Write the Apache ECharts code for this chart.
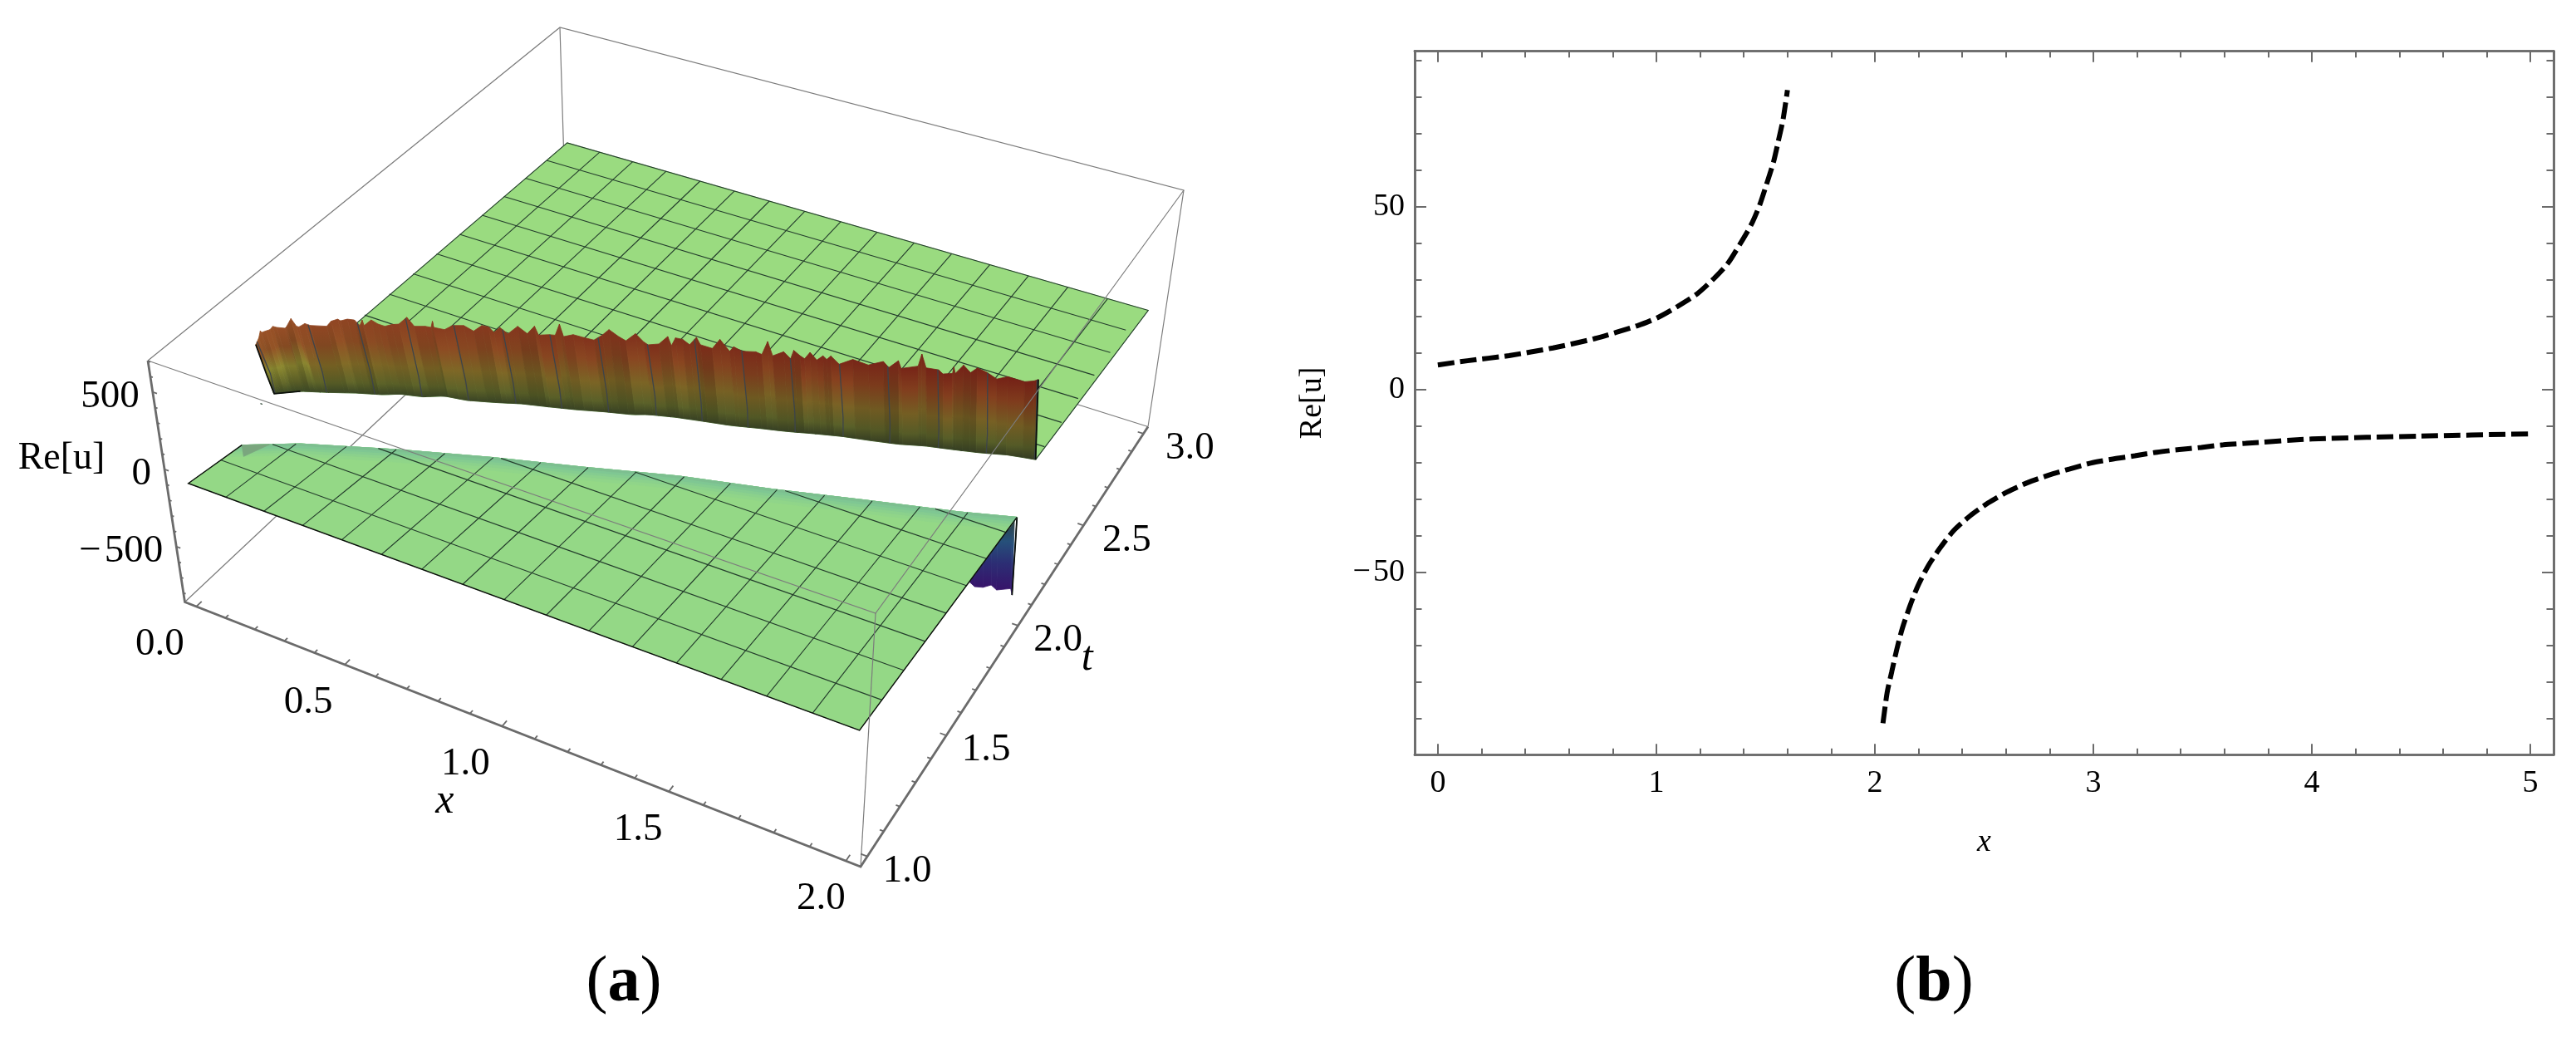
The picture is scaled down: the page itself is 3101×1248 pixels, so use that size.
<!DOCTYPE html>
<html>
<head>
<meta charset="utf-8">
<title>Re[u]</title>
<style>html,body{margin:0;background:#fff}#main{width:3101px;height:1248px}</style>
<script src="https://cdn.jsdelivr.net/npm/echarts@6/dist/echarts.min.js"></script>
</head>
<body>
<div id="main"></div>
<script>
// panel (b): the two branches of Re[u]
const leftX = [0, 0.136, 0.326, 0.527, 0.718, 0.915, 1.01, 1.099, 1.187, 1.264, 1.327, 1.384, 1.435, 1.473, 1.504, 1.536, 1.558, 1.58, 1.6];
const leftU = [6.75, 7.9, 9.3, 11.4, 13.95, 17.5, 19.8, 22.8, 26.2, 30.4, 34.5, 39.9, 45.2, 50.5, 56.1, 62.2, 67.9, 73.9, 81.9];
const rightX = [2.037, 2.056, 2.077, 2.1, 2.125, 2.159, 2.195, 2.242, 2.296, 2.36, 2.436, 2.518, 2.605, 2.696, 2.795, 2.892, 2.987, 3.089, 3.19, 3.292, 3.393, 3.494, 3.595, 3.697, 4, 4.5, 5];
const rightU = [-91.2, -82.9, -77.2, -71.1, -65.4, -59.4, -53.9, -48.4, -43.5, -38.6, -34.5, -31, -28, -25.5, -23.4, -21.7, -20.1, -19, -18.1, -17.1, -16.4, -15.8, -15.1, -14.7, -13.5, -12.7, -12.1];
const plotXMajor = [0, 1, 2, 3, 4, 5];
const plotXMinor = [0.2, 0.4, 0.6, 0.8, 1.2, 1.4, 1.6, 1.8, 2.2, 2.4, 2.6, 2.8, 3.2, 3.4, 3.6, 3.8, 4.2, 4.4, 4.6, 4.8];
const plotYMajor = [-50, 0, 50];
const plotYMinor = [-90, -80, -70, -60, -40, -30, -20, -10, 10, 20, 30, 40, 60, 70, 80, 90];

const meshX = [0, 0.125, 0.25, 0.375, 0.5, 0.625, 0.75, 0.875, 1, 1.125, 1.25, 1.375, 1.5, 1.625, 1.75, 1.875, 2];
const meshT = [1, 1.125, 1.25, 1.375, 1.5, 1.625, 1.75, 1.875, 2, 2.125, 2.25, 2.375, 2.5, 2.625, 2.75, 2.875, 3];
const crestX = [0.025, 0.163, 0.418, 0.662, 0.902, 1.151, 1.399, 1.639, 1.878, 2.022];
const crestT = [1.207, 1.289, 1.398, 1.492, 1.575, 1.667, 1.739, 1.818, 1.894, 1.948];
const wallBottomX = [-0.027, 0.031, 0.104, 0.174, 0.248, 0.287, 0.35, 0.403, 0.469, 0.543, 0.615, 0.692, 0.767, 0.84, 0.915, 0.952, 1.026, 1.103, 1.18, 1.253, 1.327, 1.399, 1.472, 1.546, 1.62, 1.69, 1.763, 1.835, 1.905, 1.978];
const wallBottomT = [1.431, 1.476, 1.509, 1.544, 1.575, 1.6, 1.619, 1.652, 1.665, 1.694, 1.726, 1.751, 1.777, 1.806, 1.832, 1.853, 1.879, 1.9, 1.92, 1.946, 1.97, 1.998, 2.024, 2.044, 2.066, 2.095, 2.117, 2.14, 2.168, 2.185];
const wallTopX = [-0.029, -0.02, -0.015, -0.012, -0.003, 0.006, 0.013, 0.021, 0.04, 0.044, 0.058, 0.07, 0.076, 0.092, 0.105, 0.146, 0.158, 0.175, 0.182, 0.2, 0.218, 0.231, 0.238, 0.242, 0.26, 0.275, 0.291, 0.31, 0.33, 0.353, 0.369, 0.394, 0.409, 0.414, 0.416, 0.448, 0.472, 0.501, 0.526, 0.548, 0.565, 0.578, 0.593, 0.613, 0.64, 0.665, 0.685, 0.695, 0.724, 0.739, 0.751, 0.761, 0.786, 0.811, 0.839, 0.861, 0.879, 0.904, 0.922, 0.945, 0.966, 0.977, 1.005, 1.028, 1.038, 1.049, 1.068, 1.087, 1.105, 1.116, 1.148, 1.168, 1.194, 1.204, 1.226, 1.261, 1.277, 1.291, 1.305, 1.333, 1.351, 1.358, 1.375, 1.386, 1.399, 1.417, 1.432, 1.442, 1.452, 1.474, 1.509, 1.55, 1.588, 1.603, 1.626, 1.634, 1.675, 1.682, 1.695, 1.727, 1.739, 1.763, 1.765, 1.77, 1.789, 1.808, 1.824, 1.849, 1.874, 1.9, 1.944, 1.968, 1.978];
const wallTopU = [297, 340, 385, 375, 382, 388, 408, 399, 392, 401, 458, 408, 405, 429, 418, 415, 449, 464, 454, 468, 465, 430, 468, 432, 469, 440, 425, 442, 451, 502, 441, 439, 433, 476, 436, 435, 472, 477, 445, 486, 479, 444, 479, 439, 496, 454, 509, 453, 463, 463, 539, 459, 477, 464, 451, 489, 530, 490, 465, 511, 459, 444, 456, 511, 454, 509, 506, 477, 532, 487, 474, 541, 470, 502, 478, 483, 470, 559, 469, 503, 461, 517, 484, 468, 512, 466, 497, 476, 501, 453, 496, 474, 509, 474, 525, 476, 498, 578, 491, 488, 465, 476, 518, 478, 537, 494, 529, 505, 468, 488, 472, 487, 500];
const dropX = [1.888, 1.892, 1.91, 1.925, 1.946, 1.966, 1.981, 2.016, 2.021];
const dropU = [-668, -596, -591, -619, -618, -598, -626, -608, -648];
const dropEdgeU = [-279, -455];
const frontSheetU = [-115, -110];
const backSheetU = [-90, -70];
const wallBendU = 60;
const box3dXMajor = [0, 0.5, 1, 1.5, 2];
const box3dXMinor = [0.1, 0.2, 0.3, 0.4, 0.6, 0.7, 0.8, 0.9, 1.1, 1.2, 1.3, 1.4, 1.6, 1.7, 1.8, 1.9];
const box3dTMajor = [1, 1.5, 2, 2.5, 3];
const box3dTMinor = [1.1, 1.2, 1.3, 1.4, 1.6, 1.7, 1.8, 1.9, 2.1, 2.2, 2.3, 2.4, 2.6, 2.7, 2.8, 2.9];
const box3dUMajor = [-500, 0, 500];
const box3dUMinor = [-800, -700, -600, -400, -300, -200, -100, 100, 200, 300, 400, 600, 700];

const SERIF = "'Liberation Serif'";

// camera: corners of the 3d box on the page, plus perspective along x and t
const range3d = {xMin: -0.04, xMax: 2.04, tMin: 0.96, tMax: 3.04, uMin: -859, uMax: 703, kX: 1.13, kT: 0.825};
const corner = {
	A: [222.5, 724.5], B: [1036, 1043], C: [1382, 513.5], D: [682, 293],
	A2: [178, 434], B2: [1054, 738], C2: [1425, 229], D2: [674, 33]
};

const mix2 = function (p, q, s) {
	return [p[0] + (q[0] - p[0]) * s, p[1] + (q[1] - p[1]) * s];
};

const project = function (x, t, u) {
	const r = range3d;
	const a = (x - r.xMin) / (r.xMax - r.xMin);
	const b = (t - r.tMin) / (r.tMax - r.tMin);
	const w = (u - r.uMin) / (r.uMax - r.uMin);
	const ax = a / (a + r.kX * (1 - a));
	const bt = b / (b + r.kT * (1 - b));
	const low = mix2(mix2(corner.A, corner.B, ax), mix2(corner.D, corner.C, ax), bt);
	const high = mix2(mix2(corner.A2, corner.B2, ax), mix2(corner.D2, corner.C2, ax), bt);
	return mix2(low, high, w);
};

const lookup = function (xs, ys, x) {
	if (x <= xs[0]) return ys[0];
	for (let i = 1; i < xs.length; i++) {
		if (x <= xs[i]) return ys[i - 1] + (ys[i] - ys[i - 1]) * (x - xs[i - 1]) / (xs[i] - xs[i - 1]);
	}
	return ys[ys.length - 1];
};

const crestAt = x => lookup(crestX, crestT, x);
const wallAt = x => lookup(wallBottomX, wallBottomT, x);
const wallTopAt = x => lookup(wallTopX, wallTopU, x);

// the sheets lean a little against the box, as they do in the picture
const frontX = (x, t) => x + 0.11 * (t - 1) * (1 - x / 2) + 0.023 * (t - 1) * x / 2;
const backX = (x, t) => x - 0.025 * (3 - t) / 1.2;
const frontU = t => frontSheetU[0] + (frontSheetU[1] - frontSheetU[0]) * (t - 1);
const backU = t => backSheetU[0] + (backSheetU[1] - backSheetU[0]) * (t - 1.4) / 1.6;

const MESH = {color: '#243d2c', width: 1.15};
const WALL_MESH = {color: '#3d444a', width: 1.3};
const THIN = {color: '#7c7c7c', width: 1.2};
const THICK = {color: '#6b6b6b', width: 2.8};
const EDGE = {color: '#0b0f0b', width: 1.4};
const WALL_EDGE = {color: '#0b0f0b', width: 1.8};

const polygon = (list, pts, fill, stroke) => list.push({kind: 'polygon', pts: pts, fill: fill, stroke: stroke});
const polyline = (list, pts, line) => list.push({kind: 'polyline', pts: pts, line: line});

const hexMix = function (p, q, s, shade) {
	const out = [0, 1, 2].map(function (i) {
		const a = parseInt(p.substr(1 + i * 2, 2), 16);
		const b = parseInt(q.substr(1 + i * 2, 2), 16);
		return Math.max(0, Math.min(255, Math.round((a + (b - a) * s) * shade)));
	});
	return 'rgb(' + out.join(',') + ')';
};

const wallGradient = function (x, shade) {
	const s = Math.max(0, Math.min(1, Math.pow((x + 0.03) / 2, 0.45)));
	const left = Math.max(0, 1 - (x + 0.03) / 0.12);
	return new echarts.graphic.LinearGradient(0, 0, 0, 1, [
		{offset: 0, color: hexMix('#a05a2a', '#741f16', s, 1)},
		{offset: 0.3, color: hexMix('#8f5426', '#7c3a1c', s, shade)},
		{offset: 0.6, color: hexMix(left > 0 ? '#8a8a30' : '#7f6a26', '#705a22', s, shade)},
		{offset: 0.85, color: hexMix('#5f6428', '#525826', s, shade)},
		{offset: 1, color: hexMix('#3c4a26', '#343c22', s, 1)}
	]);
};

const wallStreaks = [1, 0.96, 1.05, 0.95, 0.9, 1.06, 1.02, 0.94, 1.07, 0.98, 0.89, 1.03];

// back of the box, under everything
const boxBack = [];
polyline(boxBack, [[range3d.xMin, range3d.tMin, range3d.uMin], [range3d.xMin, range3d.tMax, range3d.uMin], [range3d.xMax, range3d.tMax, range3d.uMin]], THIN);
polyline(boxBack, [[range3d.xMin, range3d.tMax, range3d.uMin], [range3d.xMin, range3d.tMax, range3d.uMax]], THIN);
polyline(boxBack, [[range3d.xMin, range3d.tMin, range3d.uMax], [range3d.xMin, range3d.tMax, range3d.uMax], [range3d.xMax, range3d.tMax, range3d.uMax], [range3d.xMax, range3d.tMax, range3d.uMin]], THIN);

// back sheet
const backLayer = [];
const wallEdge = wallBottomX.map((x, i) => [x, wallBottomT[i], backU(wallBottomT[i])]);
polygon(backLayer, [[0, 3, backU(3)], [2, 3, backU(3)]].concat(wallEdge.slice().reverse()), '#9adb80');
meshX.slice(1, -1).forEach(function (x) {
	const xw = backX(x, 2);
	polyline(backLayer, [[x, 3, backU(3)], [xw, wallAt(xw), backU(wallAt(xw))]], MESH);
});
meshT.slice(3, -1).forEach(function (t) {
	const right = Math.min(backX(2, t), lookup(wallBottomT, wallBottomX, t));
	polyline(backLayer, [[backX(0, t), t, backU(t)], [right, t, backU(t)]], MESH);
});
polyline(backLayer, [[wallBottomX[0], wallBottomT[0], backU(wallBottomT[0])], [0, 3, backU(3)], [2, 3, backU(3)], wallEdge[wallEdge.length - 1]], MESH);

// the wall that climbs out of the back sheet
const wallLayer = [];
wallTopX.slice(1).forEach(function (x, i) {
	const x0 = wallTopX[i];
	const pts = [
		[x0, wallAt(x0) - 0.05, wallTopU[i]],
		[x, wallAt(x) - 0.05, wallTopU[i + 1]],
		[x, wallAt(x), backU(wallAt(x))],
		[x0, wallAt(x0), backU(wallAt(x0))]
	];
	const fill = wallGradient(x, wallStreaks[Math.floor(i / 2) % wallStreaks.length]);
	polygon(wallLayer, pts, fill, fill);
});
meshX.forEach(function (m) {
	const x = m - 0.025;
	polyline(wallLayer, [[x, wallAt(x) - 0.05, wallTopAt(x)], [x + 0.002, wallAt(x) - 0.012, wallBendU], [x, wallAt(x), backU(wallAt(x))]], WALL_MESH);
});
polyline(wallLayer, [
	[wallTopX[0], wallAt(wallTopX[0]) - 0.05, wallTopU[0]],
	[wallBottomX[0] - 0.002, wallBottomT[0] - 0.02, wallBendU],
	[wallBottomX[0], wallBottomT[0], backU(wallBottomT[0])],
	[wallBottomX[1], wallBottomT[1], backU(wallBottomT[1])]
], WALL_EDGE);
const lastTop = wallTopX.length - 1;
polyline(wallLayer, [[wallTopX[lastTop], wallAt(wallTopX[lastTop]) - 0.05, wallTopU[lastTop]], wallEdge[wallEdge.length - 1]], WALL_EDGE);

// the part of the front sheet that falls away past the crest
const dropLayer = [];
const dropFill = new echarts.graphic.LinearGradient(0, 0, 0, 1, [
	{offset: 0, color: '#2d4040'},
	{offset: 0.32, color: '#26507a'},
	{offset: 0.62, color: '#2c2e74'},
	{offset: 1, color: '#37136a'}
]);
dropX.slice(1).forEach(function (x, i) {
	const x0 = dropX[i];
	polygon(dropLayer, [
		[x0, crestAt(x0) - 0.015, frontSheetU[1]],
		[x, crestAt(x) - 0.015, frontSheetU[1]],
		[x, crestAt(x) + 0.03, dropU[i + 1]],
		[x0, crestAt(x0) + 0.03, dropU[i]]
	], dropFill, dropFill);
});
const dropEnd = dropX.length - 1;
const dropOutline = [
	[crestX[crestX.length - 1], crestT[crestT.length - 1], frontSheetU[1]],
	[dropX[dropEnd], crestAt(dropX[dropEnd]) + 0.012, dropEdgeU[0]],
	[dropX[dropEnd], crestAt(dropX[dropEnd]) + 0.02, dropEdgeU[1]],
	[dropX[dropEnd], crestAt(dropX[dropEnd]) + 0.03, dropU[dropEnd]]
];
polygon(dropLayer, dropOutline, '#2a3f5c', '#2a3f5c');
polyline(dropLayer, dropOutline, {color: '#0b0f0b', width: 1.8});

// front sheet, its crest shading and mesh
const frontLayer = [];
const crestEdge = crestX.map((x, i) => [x, crestT[i], frontU(crestT[i])]);
polygon(frontLayer, [[0, 1, frontU(1)], [2, 1, frontU(1)]].concat(crestEdge.slice().reverse()), '#94d886');
const crestBands = [[0.06, '#90d589'], [0.045, '#8bd18c'], [0.032, '#85cc90'], [0.02, '#7fc793'], [0.009, '#7dbf90']];
crestBands.forEach(function (band) {
	const inner = crestX.map((x, i) => [x, crestT[i] - band[0], frontU(crestT[i])]);
	polygon(frontLayer, inner.concat(crestEdge.slice().reverse()), band[1]);
});
polygon(frontLayer, [crestEdge[0], [0.09, crestAt(0.09), frontU(1.2)], [0.06, crestAt(0.06) - 0.06, frontU(1.2)]], '#7aa67e');
meshX.slice(1, -1).forEach(function (x) {
	const end = frontX(x, crestAt(x));
	const tEnd = crestAt(end);
	polyline(frontLayer, [[x, 1, frontU(1)], [(x + end) / 2, (1 + tEnd) / 2, frontU((1 + tEnd) / 2)], [end, tEnd, frontU(tEnd)]], MESH);
});
meshT.slice(1, 8).forEach(function (t) {
	const left = t < crestT[0] ? frontX(0, t) : lookup(crestT, crestX, t);
	polyline(frontLayer, [[left, t, frontU(t)], [(left + frontX(2, t)) / 2, t, frontU(t)], [frontX(2, t), t, frontU(t)]], MESH);
});
polyline(frontLayer, [crestEdge[0], [0, 1, frontU(1)], [2, 1, frontU(1)], crestEdge[crestEdge.length - 1]], EDGE);

// front of the box and the three axes with ticks, on top
const boxFront = [];
polyline(boxFront, [[range3d.xMin, range3d.tMin, range3d.uMax], [range3d.xMax, range3d.tMin, range3d.uMax], [range3d.xMax, range3d.tMax, range3d.uMax]], THIN);
polyline(boxFront, [[range3d.xMax, range3d.tMin, range3d.uMin], [range3d.xMax, range3d.tMin, range3d.uMax]], THIN);
polyline(boxFront, [[range3d.xMin, range3d.tMin, range3d.uMax], [range3d.xMin, range3d.tMin, range3d.uMin], [range3d.xMax, range3d.tMin, range3d.uMin], [range3d.xMax, range3d.tMax, range3d.uMin]], THICK);
const TICK = {color: '#6b6b6b', width: 1.8};
const xTick = (v, len) => polyline(boxFront, [[v, range3d.tMin, range3d.uMin], [v, range3d.tMin + len, range3d.uMin]], TICK);
const tTick = (v, len) => polyline(boxFront, [[range3d.xMax, v, range3d.uMin], [range3d.xMax - len, v, range3d.uMin]], TICK);
const uTick = (v, len) => polyline(boxFront, [[range3d.xMin, range3d.tMin, v], [range3d.xMin + len, range3d.tMin, v]], TICK);
box3dXMajor.forEach(v => xTick(v, 0.024));
box3dXMinor.forEach(v => xTick(v, 0.014));
box3dTMajor.forEach(v => tTick(v, 0.018));
box3dTMinor.forEach(v => tTick(v, 0.011));
box3dUMajor.forEach(v => uTick(v, 0.014));
box3dUMinor.forEach(v => uTick(v, 0.008));

// tick and axis labels of the 3d box
const labels3d = [];
const LABEL = 'normal 47px ' + SERIF;
const ITALIC = 'italic 50px ' + SERIF;
const fmt = v => v.toFixed(1);
const signed = v => v < 0 ? '\u2212\u200a' + Math.abs(v) : String(v);
box3dXMajor.forEach(v => labels3d.push({at: [v, range3d.tMin, range3d.uMin], dx: -44 + Math.max(0, v - 1) * 14, dy: 46, text: fmt(v), font: LABEL, align: 'center'}));
box3dTMajor.forEach(v => labels3d.push({at: [range3d.xMax, v, range3d.uMin], dx: 48 + Math.max(0, v - 2) * 8, dy: 18, text: fmt(v), font: LABEL, align: 'center'}));
box3dUMajor.forEach(v => labels3d.push({at: [range3d.xMin, range3d.tMin, v], dx: -16, dy: 6, text: signed(v), font: LABEL, align: 'right'}));
labels3d.push({at: [1, range3d.tMin, range3d.uMin], dx: -69, dy: 91, text: 'x', font: ITALIC, align: 'center'});
labels3d.push({at: [range3d.xMax, 2, range3d.uMin], dx: 83, dy: 40, text: 't', font: ITALIC, align: 'center'});
labels3d.push({at: [range3d.xMin, range3d.tMin, 0], dx: -124, dy: -13, text: 'Re[u]', font: 'normal 46px ' + SERIF, align: 'center'});

const shapeSeries = function (list, z) {
	return {
		type: 'custom',
		coordinateSystem: 'cartesian2d',
		xAxisIndex: 0,
		yAxisIndex: 0,
		silent: true,
		clip: false,
		animation: false,
		progressive: 0,
		z: z,
		data: list.map((s, i) => [i]),
		renderItem: function (params, api) {
			const s = list[api.value(0)];
			const points = s.pts.map(p => api.coord(project(p[0], p[1], p[2])));
			if (s.kind === 'polygon') {
				return {type: 'polygon', shape: {points: points}, style: {fill: s.fill, stroke: s.stroke || s.fill, lineWidth: 0.8}};
			}
			return {type: 'polyline', shape: {points: points}, style: {fill: 'none', stroke: s.line.color, lineWidth: s.line.width}};
		}
	};
};

const labelSeries = {
	type: 'custom',
	coordinateSystem: 'cartesian2d',
	xAxisIndex: 0,
	yAxisIndex: 0,
	silent: true,
	clip: false,
	animation: false,
	z: 20,
	data: labels3d.map((s, i) => [i]),
	renderItem: function (params, api) {
		const s = labels3d[api.value(0)];
		const p = api.coord(project(s.at[0], s.at[1], s.at[2]));
		return {type: 'text', style: {text: s.text, x: p[0] + s.dx, y: p[1] + s.dy, font: s.font, fill: '#000', align: s.align, verticalAlign: 'middle'}};
	}
};

// panel (b) axes: custom tick lists, one axis per tick length, mirrored on the far sides
const PLOT_X = {min: -0.106, max: 5.106};
const PLOT_Y = {min: -99.8, max: 92.5};
const plotLine = {show: true, onZero: false, lineStyle: {color: '#6b6b6b', width: 2.6}};
const plotAxisX = function (position, ticks, length, labelled) {
	return {
		type: 'value', gridIndex: 1, position: position, min: PLOT_X.min, max: PLOT_X.max,
		splitLine: {show: false}, axisLine: plotLine,
		axisTick: {show: true, inside: true, length: length, customValues: ticks, lineStyle: {color: '#6b6b6b', width: 2}},
		axisLabel: labelled ? {show: true, customValues: ticks, margin: 16, color: '#000', fontFamily: SERIF, fontSize: 38} : {show: false},
		name: labelled ? 'x' : '',
		nameLocation: 'middle',
		nameGap: 87,
		nameTextStyle: {color: '#000', fontFamily: SERIF, fontStyle: 'italic', fontSize: 38}
	};
};
const plotAxisY = function (position, ticks, length, labelled) {
	return {
		type: 'value', gridIndex: 1, position: position, min: PLOT_Y.min, max: PLOT_Y.max,
		splitLine: {show: false}, axisLine: plotLine,
		axisTick: {show: true, inside: true, length: length, customValues: ticks, lineStyle: {color: '#6b6b6b', width: 2}},
		axisLabel: labelled ? {show: true, customValues: ticks, margin: 12, color: '#000', fontFamily: SERIF, fontSize: 38, formatter: signed} : {show: false},
		name: labelled ? 'Re[u]' : '',
		nameLocation: 'middle',
		nameGap: 104,
		nameRotate: 90,
		nameTextStyle: {color: '#000', fontFamily: SERIF, fontSize: 38}
	};
};
const DASH = {color: '#000', width: 6, type: [20, 7], cap: 'butt'};
const branch = (xs, us) => ({
	type: 'line',
	xAxisIndex: 1,
	yAxisIndex: 1,
	showSymbol: false,
	smooth: 0.25,
	animation: false,
	lineStyle: DASH,
	data: xs.map((x, i) => [x, us[i]])
});

const caption = (letter, x) => ({
	type: 'text',
	x: x,
	y: 1184,
	style: {
		text: '{p|(}{b|' + letter + '}{p|)}',
		align: 'center',
		verticalAlign: 'middle',
		rich: {
			p: {font: 'normal 78px ' + SERIF, fill: '#000'},
			b: {font: 'bold 78px ' + SERIF, fill: '#000'}
		}
	}
});

const chart = echarts.init(document.getElementById('main'), null, {renderer: 'canvas'});
chart.setOption({
	backgroundColor: '#fff',
	animation: false,
	grid: [
		{left: 0, top: 0, width: 3101, height: 1248, show: false},
		{left: 1703, top: 61.7, width: 1371, height: 846.5, show: false}
	],
	xAxis: [
		{type: 'value', gridIndex: 0, min: 0, max: 3101, show: false},
		plotAxisX('bottom', plotXMajor, 13, true),
		plotAxisX('bottom', plotXMinor, 7.5, false),
		plotAxisX('top', plotXMajor, 13, false),
		plotAxisX('top', plotXMinor, 7.5, false)
	],
	yAxis: [
		{type: 'value', gridIndex: 0, min: 0, max: 1248, inverse: true, show: false},
		plotAxisY('left', plotYMajor, 14, true),
		plotAxisY('left', plotYMinor, 8.5, false),
		plotAxisY('right', plotYMajor, 14, false),
		plotAxisY('right', plotYMinor, 8.5, false)
	],
	graphic: [caption('a', 751), caption('b', 2328)],
	series: [
		shapeSeries(boxBack, 2),
		shapeSeries(backLayer, 3),
		shapeSeries(wallLayer, 4),
		shapeSeries(dropLayer, 5),
		shapeSeries(frontLayer, 6),
		shapeSeries(boxFront, 7),
		labelSeries,
		branch(leftX, leftU),
		branch(rightX, rightU)
	]
});
</script>
</body>
</html>
